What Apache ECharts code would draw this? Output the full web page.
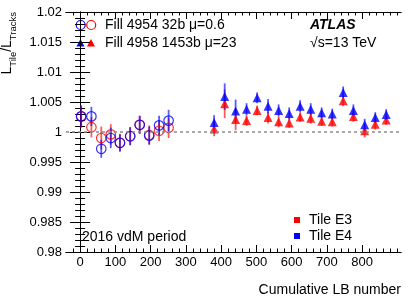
<!DOCTYPE html>
<html><head><meta charset="utf-8">
<script src="https://cdn.jsdelivr.net/npm/echarts@6/dist/echarts.min.js"></script>
<style>html,body{margin:0;padding:0;background:#fff}#c{width:414px;height:303px}</style>
</head><body><div id="c"></div>
<script>
// ---- data ----
const circLB = [3, 32, 60, 87, 113, 142, 169, 196, 224, 251];
const circE4 = [1.0026, 1.0026, 0.9972, 0.9990, 0.9982, 0.9993, 1.0012, 0.9994, 1.0011, 1.0019];
const circE4err = [0.0017, 0.0016, 0.0015, 0.0017, 0.0014, 0.0015, 0.0015, 0.0015, 0.0016, 0.0018];
const circE3 = [1.0026, 1.0008, 0.9990, 0.9996, 0.9982, 0.9993, 1.0012, 0.9995, 1.0002, 1.0007];
const circE3err = [0.0019, 0.0017, 0.0019, 0.0017, 0.0015, 0.0015, 0.0015, 0.0016, 0.0017, 0.0017];
const triLB = [380, 410, 441, 472, 502, 533, 563, 593, 624, 654, 685, 715, 746, 775, 807, 837, 868];
const triE4 = [1.0016, 1.0059, 1.0035, 1.0038, 1.0057, 1.0043, 1.0036, 1.0031, 1.0043, 1.0038, 1.0032, 1.0030, 1.0066, 1.0036, 1.0012, 1.0024, 1.0029];
const triE4err = [0.0012, 0.0022, 0.0019, 0.0010, 0.0009, 0.0012, 0.0010, 0.0010, 0.0010, 0.0010, 0.0009, 0.0009, 0.0010, 0.0010, 0.0010, 0.0009, 0.0009];
const triE3 = [1.0005, 1.0047, 1.0021, 1.0019, 1.0036, 1.0024, 1.0017, 1.0015, 1.0025, 1.0023, 1.0018, 1.0017, 1.0052, 1.0026, 1.0002, 1.0013, 1.0020];
const triE3err = [0.0012, 0.0024, 0.0018, 0.0009, 0.0008, 0.0010, 0.0009, 0.0008, 0.0008, 0.0009, 0.0008, 0.0008, 0.0009, 0.0009, 0.0011, 0.0009, 0.0008];
const xMajorTicks = [0, 100, 200, 300, 400, 500, 600, 700, 800];
const xMinorTicks = [-20, 20, 40, 60, 80, 120, 140, 160, 180, 220, 240, 260, 280, 320, 340, 360, 380, 420, 440, 460, 480, 520, 540, 560, 580, 620, 640, 660, 680, 720, 740, 760, 780, 820, 840, 860, 880, 900];

const FONT = "'Liberation Sans', Arial, sans-serif";
const BLUE = '#0000ff', RED = '#ff0000';

function pairs(xs, ys){ return xs.map((x,i)=>[x, ys[i]]); }
function errData(xs, ys, es){ return xs.map((x,i)=>[x, ys[i], es[i]]); }
function errSeries(xs, ys, es, color, z){
  return {
    type:'custom', xAxisIndex:0, yAxisIndex:0, z:z, silent:true,
    data: errData(xs, ys, es),
    renderItem: function(params, api){
      const x = api.value(0), y = api.value(1), e = api.value(2);
      const p1 = api.coord([x, y - e]), p2 = api.coord([x, y + e]);
      return {type:'line', shape:{x1:p1[0], y1:p1[1], x2:p2[0], y2:p2[1]},
              style:{stroke:color, lineWidth:1.8, opacity:0.65}};
    }
  };
}

const chart = echarts.init(document.getElementById('c'), null, {renderer:'canvas'});
const axLine = {show:true, lineStyle:{color:'#000', width:1}};
const option = {
  animation:false,
  textStyle:{fontFamily:FONT},
  grid:{left:66, right:13, top:12, bottom:51},
  xAxis:[
    {type:'value', min:-40, max:910, position:'bottom', axisLine:axLine,
     axisTick:{show:true, inside:true, length:7, customValues:xMajorTicks, lineStyle:{color:'#000'}},
     axisLabel:{show:true, customValues:xMajorTicks, fontSize:13, color:'#000', margin:4, fontFamily:FONT},
     splitLine:{show:false}},
    {type:'value', min:-40, max:910, position:'bottom', axisLine:axLine,
     axisTick:{show:true, inside:true, length:3.5, customValues:xMinorTicks, lineStyle:{color:'#000'}},
     axisLabel:{show:false}, splitLine:{show:false}},
    {type:'value', min:-40, max:910, position:'top', axisLine:axLine,
     axisTick:{show:true, inside:true, length:7, customValues:xMajorTicks, lineStyle:{color:'#000'}},
     axisLabel:{show:false}, splitLine:{show:false}},
    {type:'value', min:-40, max:910, position:'top', axisLine:axLine,
     axisTick:{show:true, inside:true, length:3.5, customValues:xMinorTicks, lineStyle:{color:'#000'}},
     axisLabel:{show:false}, splitLine:{show:false}}
  ],
  yAxis:[
    {type:'value', min:0.98, max:1.02, interval:0.005, position:'left', axisLine:axLine,
     axisTick:{show:true, inside:true, length:10, lineStyle:{color:'#000'}},
     minorTick:{show:true, splitNumber:5, length:5, lineStyle:{color:'#000'}},
     axisLabel:{fontSize:13, color:'#000', margin:4, fontFamily:FONT,
       formatter:v=>String(parseFloat(v.toFixed(3)))},
     splitLine:{show:false}},
    {type:'value', min:0.98, max:1.02, interval:0.005, position:'right', axisLine:axLine,
     axisTick:{show:true, inside:true, length:10, lineStyle:{color:'#000'}},
     minorTick:{show:true, splitNumber:5, length:5, lineStyle:{color:'#000'}},
     axisLabel:{show:false}, splitLine:{show:false}}
  ],
  series:[
    {type:'line', data:[], markLine:{silent:true, symbol:'none', label:{show:false},
      lineStyle:{color:'#8c8c8c', type:[3,3], width:1.5}, data:[{yAxis:1}]}},
    errSeries(circLB, circE3, circE3err, RED, 2),
    errSeries(circLB, circE4, circE4err, BLUE, 2),
    errSeries(triLB, triE3, triE3err, RED, 2),
    errSeries(triLB, triE4, triE4err, BLUE, 2),
    {type:'scatter', z:3, symbol:'circle', symbolSize:9.5, data:pairs(circLB, circE3),
     itemStyle:{color:'rgba(0,0,0,0)', borderColor:RED, borderWidth:1.2}},
    {type:'scatter', z:4, symbol:'circle', symbolSize:9.5, data:pairs(circLB, circE4),
     itemStyle:{color:'rgba(0,0,0,0)', borderColor:BLUE, borderWidth:1.2}},
    {type:'scatter', z:3, symbol:'triangle', symbolSize:9, data:pairs(triLB, triE3),
     itemStyle:{color:RED}},
    {type:'scatter', z:4, symbol:'triangle', symbolSize:9, data:pairs(triLB, triE4),
     itemStyle:{color:BLUE}}
  ],
  graphic:[
    {type:'text', x:9, y:12, rotation:Math.PI/2,
     style:{text:'{L|L}{s|Tile}{L|/L}{s|Tracks}', align:'right', verticalAlign:'middle', fill:'#000',
       rich:{L:{fontSize:14, fontFamily:FONT, lineHeight:18, verticalAlign:'top', fill:'#000'},
             s:{fontSize:9.5, fontFamily:FONT, lineHeight:18, verticalAlign:'bottom', fill:'#000'}}}},
    {type:'circle', shape:{cx:80.7, cy:25, r:4.5}, style:{fill:'none', stroke:BLUE, lineWidth:1.2}},
    {type:'circle', shape:{cx:91.2, cy:25, r:4.5}, style:{fill:'none', stroke:RED, lineWidth:1.2}},
    {type:'text', x:105, y:25, style:{text:'Fill 4954 32b \u03bc=0.6', fontSize:14, fontFamily:FONT, fill:'#000', verticalAlign:'middle'}},
    {type:'polygon', shape:{points:[[80.5,39],[76.5,46.5],[84.5,46.5]]}, style:{fill:BLUE}},
    {type:'polygon', shape:{points:[[91,39],[87,46.5],[95,46.5]]}, style:{fill:RED}},
    {type:'text', x:105, y:43, style:{text:'Fill 4958 1453b \u03bc=23', fontSize:14, fontFamily:FONT, fill:'#000', verticalAlign:'middle'}},
    {type:'text', x:310, y:25, style:{text:'ATLAS', fontSize:14, fontWeight:'bold', fontStyle:'italic', fontFamily:FONT, fill:'#000', verticalAlign:'middle'}},
    {type:'text', x:310, y:43, style:{text:'\u221As=13 TeV', fontSize:14, fontFamily:FONT, fill:'#000', verticalAlign:'middle'}},
    {type:'text', x:82, y:237, style:{text:'2016 vdM period', fontSize:14, fontFamily:FONT, fill:'#000', verticalAlign:'middle'}},
    {type:'rect', shape:{x:294, y:217, width:6, height:6}, style:{fill:RED}},
    {type:'text', x:309, y:220, style:{text:'Tile E3', fontSize:14, fontFamily:FONT, fill:'#000', verticalAlign:'middle'}},
    {type:'rect', shape:{x:294, y:233, width:6, height:6}, style:{fill:BLUE}},
    {type:'text', x:309, y:236, style:{text:'Tile E4', fontSize:14, fontFamily:FONT, fill:'#000', verticalAlign:'middle'}},
    {type:'text', x:401, y:290, style:{text:'Cumulative LB number', fontSize:14, fontFamily:FONT, fill:'#000', align:'right', verticalAlign:'middle'}}
  ]
};
chart.setOption(option);
</script></body></html>
